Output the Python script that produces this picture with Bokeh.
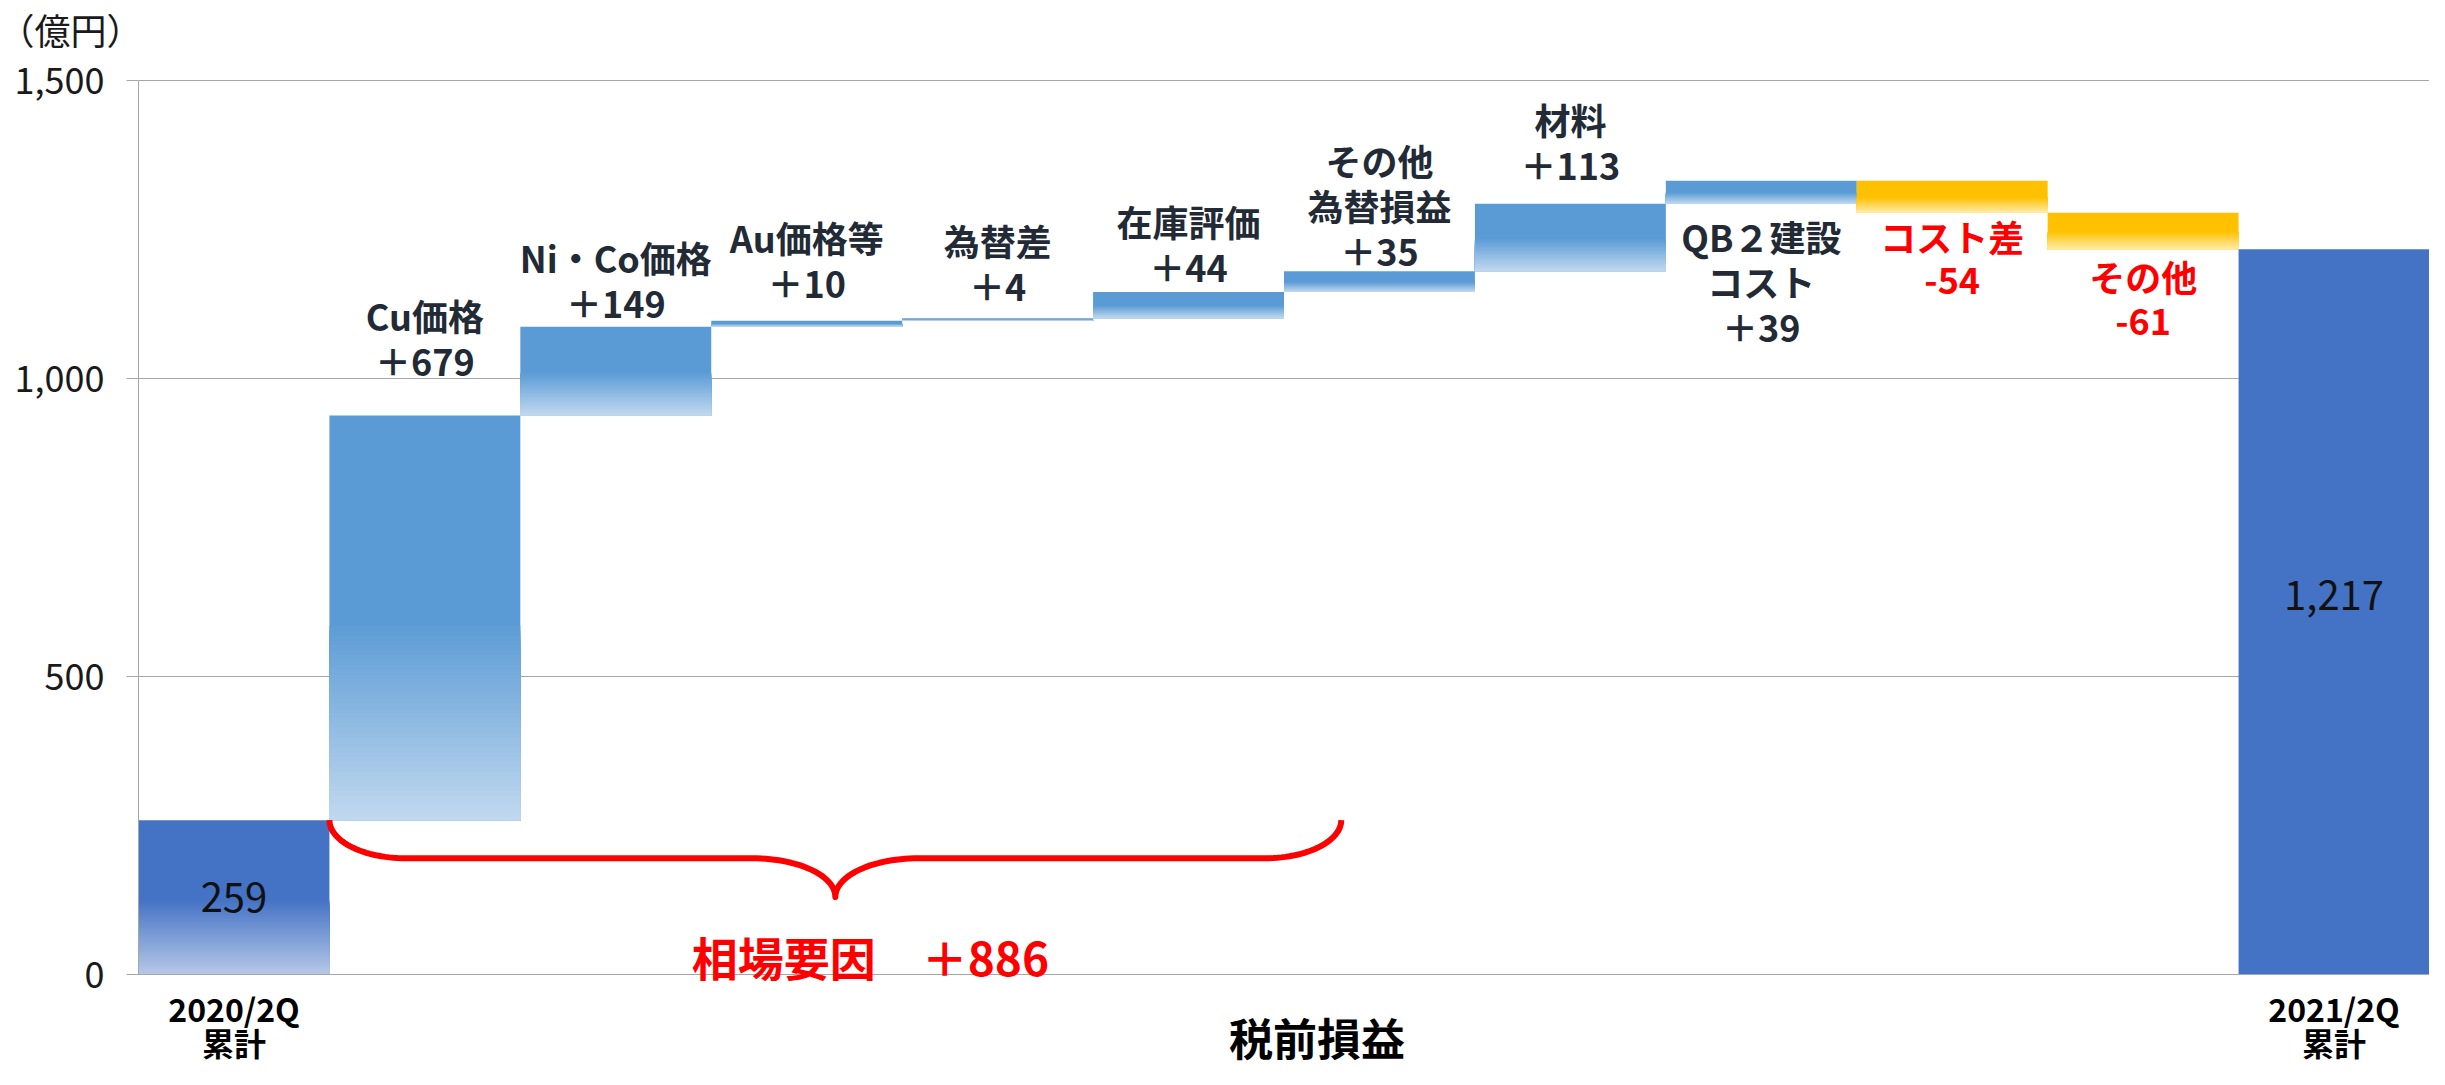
import numpy as np
from bokeh.plotting import figure
from bokeh.models import Range1d, FixedTicker, NumeralTickFormatter, Label, ColumnDataSource
from bokeh.embed import file_html
from bokeh.resources import INLINE
from bokeh.core.properties import value

# ---------------- data ----------------
start_label = ["2020/2Q", "累計"]
end_label = ["2021/2Q", "累計"]
start_value = 259
end_value = 1217
step_names = [
    ["Cu価格"],
    ["Ni・Co価格"],
    ["Au価格等"],
    ["為替差"],
    ["在庫評価"],
    ["その他", "為替損益"],
    ["材料"],
    ["QB２建設", "コスト"],
    ["コスト差"],
    ["その他"],
]
step_values = [679, 149, 10, 4, 44, 35, 113, 39, -54, -61]
market_label = "相場要因　＋886"
market_steps = 5          # Cu .. 在庫評価
x_title = "税前損益"
unit_label = "（億円）"
y_ticks = [0, 500, 1000, 1500]

# ---------------- styles ----------------
FONT = value("Noto Sans CJK JP")
TXT = "#222A35"
label_gap = [55, 25, 39, 33, 26, 21, 40, 32, 23, 27]
label_below = [False, False, False, False, False, False, False, True, False, False]
LINE_H = 45

# ---------------- geometry from data ----------------
n = len(step_values) + 2
bottoms, tops, kinds = [0], [start_value], ["start"]
level = start_value
for v in step_values:
    nxt = level + v
    bottoms.append(min(level, nxt))
    tops.append(max(level, nxt))
    kinds.append("up" if v >= 0 else "down")
    level = nxt
bottoms.append(0)
tops.append(end_value)
kinds.append("end")

palette = {
    "start": ("#4472C4", "#B4C7E7"),
    "up": ("#5B9BD5", "#C0D8EF"),
    "down": ("#FFC000", "#FFEBA8"),
    "end": ("#4472C4", "#4472C4"),
}

def mix(c1, c2, t):
    a = [int(c1[i:i + 2], 16) for i in (1, 3, 5)]
    b = [int(c2[i:i + 2], 16) for i in (1, 3, 5)]
    return "#%02x%02x%02x" % tuple(round(a[k] + (b[k] - a[k]) * t) for k in range(3))

# frame fills the whole canvas; axes are pinned inside it
W, H = 2429, 1069
y_lo, y_hi = y_ticks[0], y_ticks[-1]
px_per_y = 894 / (y_hi - y_lo)
px_per_x = (W - 138) / n
p = figure(width=W, height=H, output_backend="svg", toolbar_location=None,
           x_range=Range1d(-0.5 - 138 / px_per_x, n - 0.5),
           y_range=Range1d(y_lo - 95 / px_per_y, y_hi + 80 / px_per_y),
           min_border=0)
p.outline_line_color = None
p.background_fill_color = "white"
p.border_fill_color = "white"
p.xgrid.visible = False
p.ygrid.visible = False

# gridlines
p.segment(x0=[-0.5] * len(y_ticks), x1=[n - 0.5] * len(y_ticks), y0=y_ticks, y1=y_ticks,
          line_color="#A6A6A6", line_width=1)

# bars with vertical gradient (solid upper half, fading toward the bottom)
N = 40
L, R, B, T, C = [], [], [], [], []
for i in range(n):
    solid, light = palette[kinds[i]]
    b, t = bottoms[i], tops[i]
    L.append(i - 0.5); R.append(i + 0.5); B.append(b); T.append(t); C.append(solid)
    if kinds[i] != "end":
        fade_h = 0.48 * (t - b)
        for k in range(1, N + 1):
            L.append(i - 0.5); R.append(i + 0.5); B.append(b)
            T.append(b + fade_h * (N - k + 1) / N)
            C.append(mix(solid, light, k / N))
p.quad(source=ColumnDataSource(dict(left=L, right=R, bottom=B, top=T, color=C)),
       left="left", right="right", bottom="bottom", top="top",
       fill_color="color", line_color=None)

# axes
p.yaxis.fixed_location = -0.5
p.yaxis.bounds = (y_lo, y_hi)
p.yaxis.ticker = FixedTicker(ticks=y_ticks)
p.yaxis.formatter = NumeralTickFormatter(format="0,0")
p.yaxis.axis_line_color = "#A6A6A6"
p.yaxis.major_tick_line_color = "#A6A6A6"
p.yaxis.major_tick_out = 12
p.yaxis.major_tick_in = 0
p.yaxis.minor_tick_line_color = None
p.yaxis.major_label_standoff = 22
p.yaxis.major_label_text_font = "Noto Sans CJK JP"
p.yaxis.major_label_text_font_size = "36px"
p.yaxis.major_label_text_color = "#1a1a1a"
p.xaxis.fixed_location = 0
p.xaxis.bounds = (-0.5, n - 0.5)
p.xaxis.ticker = FixedTicker(ticks=[])
p.xaxis.axis_line_color = "#A6A6A6"
p.xaxis.major_tick_line_color = None
p.xaxis.minor_tick_line_color = None
p.xaxis.major_label_text_font_size = "0px"

# step labels
tx, ty, tt, toff, tcol = [], [], [], [], []
for j, (names, v) in enumerate(zip(step_names, step_values)):
    i = j + 1
    lines = names + [("＋%d" % v) if v >= 0 else ("-%d" % -v)]
    col = TXT if v >= 0 else "#FF0000"
    if label_below[j] or v < 0:
        for k, s in enumerate(lines):
            tx.append(i); ty.append(bottoms[i]); tt.append(s)
            toff.append(label_gap[j] + k * LINE_H); tcol.append(col)
    else:
        m = len(lines)
        for k, s in enumerate(lines):
            tx.append(i); ty.append(tops[i]); tt.append(s)
            toff.append(-(label_gap[j] + (m - 1 - k) * LINE_H)); tcol.append(col)
p.text(source=ColumnDataSource(dict(x=tx, y=ty, text=tt, yo=toff, c=tcol)),
       x="x", y="y", text="text", y_offset="yo", text_color="c",
       text_font=FONT, text_font_size="36px", text_font_style="bold",
       text_align="center", text_baseline="middle")

# totals inside bars
p.text(x=[0, n - 1], y=[(bottoms[0] + tops[0]) / 2, (bottoms[-1] + tops[-1]) / 2],
       text=["{:,}".format(start_value), "{:,}".format(end_value)],
       y_offset=[0, -16], text_font=FONT, text_font_size="40px", text_color="#111111",
       text_align="center", text_baseline="middle")

# brace for market factors
x0 = 0.5
x1 = market_steps + 0.8
xm = (x0 + x1) / 2
ytop = start_value
rx, ry = 0.40, 64
rx2, ry2 = 0.435, 65
yh = ytop - ry
th = np.linspace(np.pi, 1.5 * np.pi, 30)
bx = list(x0 + rx + rx * np.cos(th))
by = list(ytop + ry * np.sin(th))
th2 = np.linspace(0.5 * np.pi, 0, 30)
bx += list(xm - rx2 + rx2 * np.cos(th2))
by += list(yh - ry2 + ry2 * np.sin(th2))
th3 = np.linspace(np.pi, 0.5 * np.pi, 30)
bx += list(xm + rx2 + rx2 * np.cos(th3))
by += list(yh - ry2 + ry2 * np.sin(th3))
th4 = np.linspace(1.5 * np.pi, 2 * np.pi, 30)
bx += list(x1 - rx + rx * np.cos(th4))
by += list(ytop + ry * np.sin(th4))
p.line(bx, by, line_color="#FF0000", line_width=6, line_join="round")

p.add_layout(Label(x=xm, y=0, x_offset=35, y_offset=19, text=market_label,
                   text_font="Noto Sans CJK JP", text_font_size="46px", text_font_style="bold",
                   text_color="#FF0000", text_align="center", text_baseline="middle"))

# category labels below the axis
for xi, lines in ((0, start_label), (n - 1, end_label)):
    for k, s in enumerate(lines):
        p.add_layout(Label(x=xi, y=0, y_offset=-(33 + 34 * k), text=s,
                           text_font="Noto Sans CJK JP", text_font_size="32px",
                           text_font_style="bold", text_color="#000000",
                           text_align="center", text_baseline="middle"))
p.add_layout(Label(x=(n - 1) / 2, y=0, x_offset=33, y_offset=-62, text=x_title,
                   text_font="Noto Sans CJK JP", text_font_size="44px", text_font_style="bold",
                   text_color="#000000", text_align="center", text_baseline="middle"))
p.add_layout(Label(x=-0.5, y=y_hi, x_offset=-140, y_offset=52, text=unit_label,
                   text_font="Noto Sans CJK JP", text_font_size="36px",
                   text_color="#1a1a1a", text_align="left", text_baseline="middle"))

open("out.html", "w").write(file_html(p, INLINE))
